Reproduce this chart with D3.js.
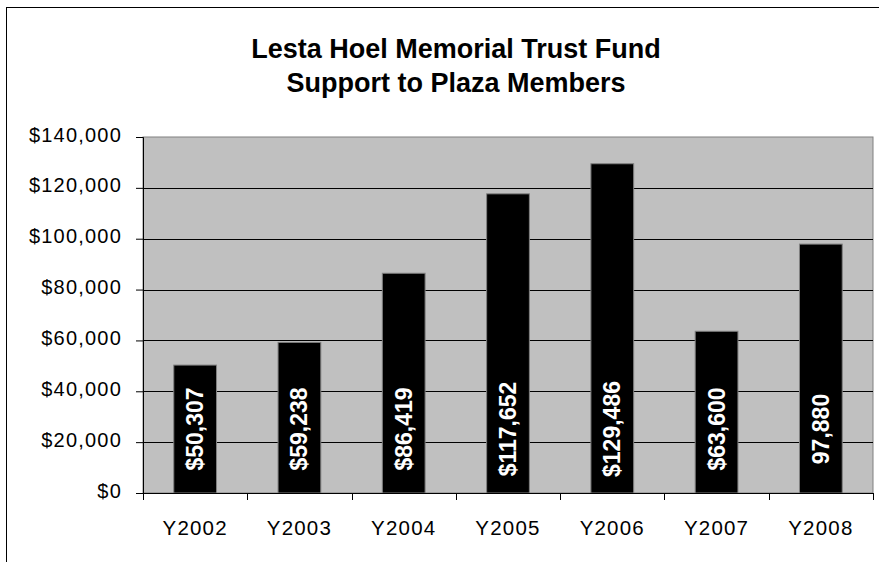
<!DOCTYPE html>
<html>
<head>
<meta charset="utf-8">
<script src="https://cdn.jsdelivr.net/npm/d3@7"></script>
<style>
  body { margin: 0; background: #fff; }
  text { font-family: "Liberation Sans", Arial, sans-serif; }
</style>
</head>
<body>
<div id="grafica"></div>
<script>
// datos
var years = ["Y2002", "Y2003", "Y2004", "Y2005", "Y2006", "Y2007", "Y2008"];
var amounts = [50307, 59238, 86419, 117652, 129486, 63600, 97880];
var labels = ["$50,307", "$59,238", "$86,419", "$117,652", "$129,486", "$63,600", "97,880"];
var yTicks = [0, 20000, 40000, 60000, 80000, 100000, 120000, 140000];
var titleLines = ["Lesta Hoel Memorial Trust Fund", "Support to Plaza Members"];

// dimensiones y margenes
var W = 879, H = 562;
var margin = {top: 137, right: 6, bottom: 69, left: 143},
width = W - margin.left - margin.right,
height = H - margin.top - margin.bottom;

var root = d3.select("#grafica")
.append("svg")
.attr("width", W)
.attr("height", H);

// marco exterior
root.append("rect")
.attr("x", 6.5).attr("y", 7.5)
.attr("width", 900).attr("height", 600)
.attr("fill", "#fff")
.attr("stroke", "#000");

// titulo
root.append("text")
.attr("x", 456)
.attr("text-anchor", "middle")
.style("font-size", "27px")
.style("font-weight", "bold")
.selectAll("tspan")
.data(titleLines)
.enter()
.append("tspan")
.attr("x", 456)
.attr("y", function(d, i) { return 58 + i * 33.5; })
.text(function(d) { return d; });

var svg = root.append("g")
.attr("transform", "translate(" + margin.left + "," + margin.top + ")");

// escalas
var x = d3.scaleBand()
.range([0, width])
.domain(years)
.padding(0);

var y = d3.scaleLinear()
.domain([0, 140000])
.range([height, 0]);

// area de grafica
svg.append("rect")
.attr("width", width)
.attr("height", height)
.attr("fill", "#c0c0c0")
.attr("stroke", "#808080");

// lineas de cuadricula
svg.selectAll("grid")
.data(yTicks.filter(function(d) { return d > 0 && d < 140000; }))
.enter()
.append("line")
.attr("x1", 0).attr("x2", width)
.attr("y1", function(d) { return Math.round(y(d)) + 0.5; })
.attr("y2", function(d) { return Math.round(y(d)) + 0.5; })
.attr("stroke", "#000");

// barras
var barW = x.bandwidth() * 0.41;
svg.selectAll("mybar")
.data(amounts)
.enter()
.append("rect")
.attr("x", function(d, i) { return x(years[i]) + (x.bandwidth() - barW) / 2; })
.attr("y", function(d) { return y(d); })
.attr("width", barW)
.attr("height", function(d) { return height - y(d); })
.attr("fill", "#000")
.attr("stroke", "#808080");

// etiquetas de las barras
svg.selectAll("barlabel")
.data(labels)
.enter()
.append("text")
.attr("transform", function(d, i) {
  return "translate(" + (x(years[i]) + x.bandwidth() / 2 + 8) + "," + (height - 64) + ")rotate(-90)";
})
.attr("text-anchor", "middle")
.attr("fill", "#fff")
.style("font-size", "23px")
.style("font-weight", "bold")
.text(function(d) { return d; });

// eje Y
var yAxis = svg.append("g")
.call(d3.axisLeft(y)
  .tickValues(yTicks)
  .tickSize(7)
  .tickPadding(14)
  .tickFormat(function(d) { return "$" + d3.format(",")(d); }));
yAxis.select(".domain").attr("stroke", "#000");
yAxis.selectAll("text")
.attr("dy", "0.2em")
.style("font-size", "20px")
.style("letter-spacing", "1.2px")
.attr("fill", "#000");

// eje X
var xAxis = svg.append("g")
.attr("transform", "translate(0," + height + ")")
.call(d3.axisBottom(x).tickSize(0).tickPadding(27));
xAxis.select(".domain").remove();
xAxis.selectAll("text")
.style("font-size", "20.5px")
.style("letter-spacing", "1.2px")
.attr("fill", "#000");

// linea base y marcas entre categorias
svg.append("line")
.attr("x1", 0).attr("x2", width)
.attr("y1", height + 0.5).attr("y2", height + 0.5)
.attr("stroke", "#000");
svg.selectAll("xtick")
.data(d3.range(years.length + 1))
.enter()
.append("line")
.attr("x1", function(i) { return Math.round(i * x.step()) + 0.5; })
.attr("x2", function(i) { return Math.round(i * x.step()) + 0.5; })
.attr("y1", height)
.attr("y2", height + 7)
.attr("stroke", "#000");
</script>
</body>
</html>
